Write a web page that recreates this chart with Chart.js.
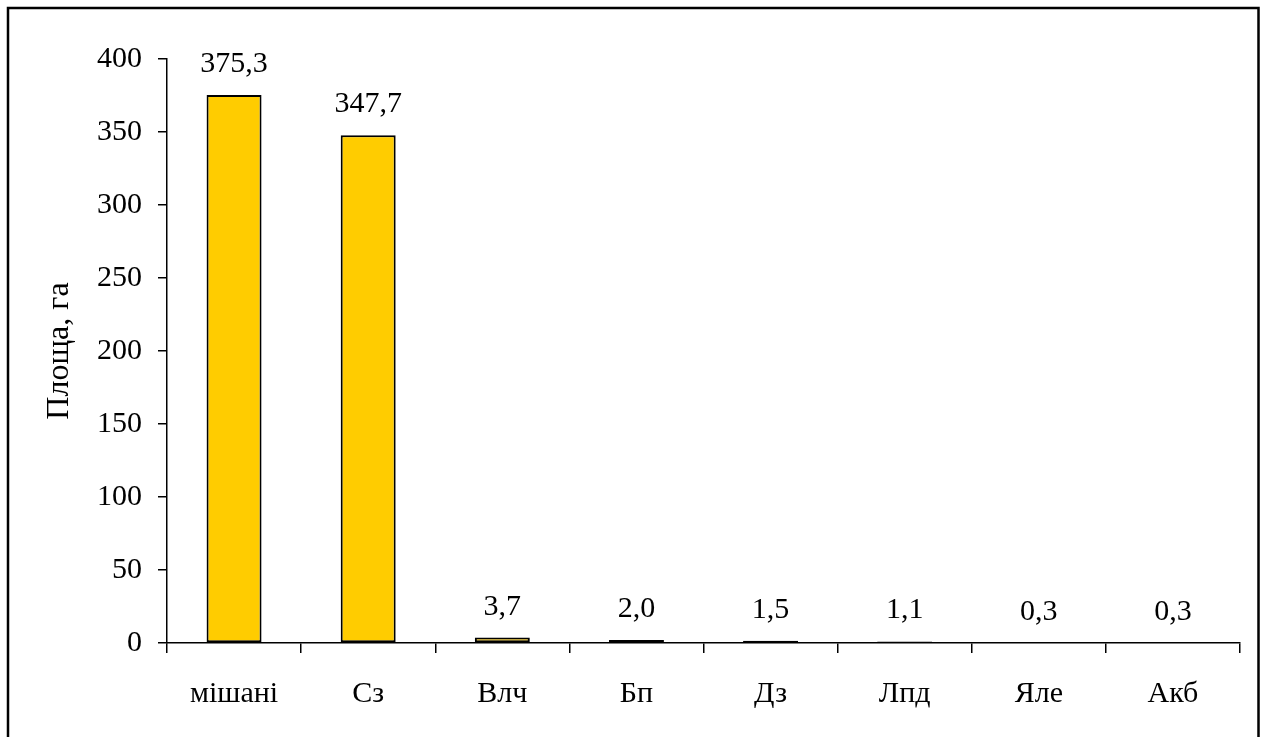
<!DOCTYPE html>
<html>
<head>
<meta charset="utf-8">
<script src="https://cdn.jsdelivr.net/npm/chart.js@4.4.1/dist/chart.umd.min.js"></script>
<style>
html,body{margin:0;padding:0;background:#fff;}
#wrap{position:absolute;left:0;top:0;width:1265px;height:737px;}
</style>
</head>
<body>
<div id="wrap"><canvas id="c" width="1265" height="737"></canvas></div>
<script>
const categories = ["мішані", "Сз", "Влч", "Бп", "Дз", "Лпд", "Яле", "Акб"];
const areaValues = [375.3, 347.7, 3.7, 2.0, 1.5, 1.1, 0.3, 0.3];
const yTicks = [0, 50, 100, 150, 200, 250, 300, 350, 400];
const yTitle = "Площа, га";

const FONT = "'Liberation Serif', 'Times New Roman', serif";

const frameAndLabels = {
  id: 'frameAndLabels',
  afterDatasetsDraw(chart) {
    const ctx = chart.ctx;
    const meta = chart.getDatasetMeta(0);
    ctx.save();
    ctx.fillStyle = '#000';
    ctx.font = '30px ' + FONT;
    ctx.textAlign = 'center';
    ctx.textBaseline = 'alphabetic';
    meta.data.forEach((bar, i) => {
      const v = chart.data.datasets[0].data[i];
      ctx.fillText(v.toFixed(1).replace('.', ','), bar.x, bar.y - 23);
    });
    ctx.restore();
  },
  afterDraw(chart) {
    const ctx = chart.ctx;
    ctx.save();
    ctx.strokeStyle = '#000';
    ctx.lineWidth = 2.5;
    ctx.beginPath();
    ctx.moveTo(8, 737);
    ctx.lineTo(8, 8);
    ctx.lineTo(1258.5, 8);
    ctx.lineTo(1258.5, 737);
    ctx.stroke();
    ctx.restore();
  }
};

new Chart(document.getElementById('c'), {
  type: 'bar',
  data: {
    labels: categories,
    datasets: [{
      data: areaValues,
      backgroundColor: '#FFCC00',
      borderColor: '#000',
      borderWidth: 2,
      borderSkipped: false,
      barPercentage: 0.41,
      categoryPercentage: 1.0
    }]
  },
  options: {
    responsive: false,
    animation: false,
    devicePixelRatio: 1,
    layout: { padding: { left: 0, top: 59, right: 25, bottom: 0 } },
    plugins: { legend: { display: false }, tooltip: { enabled: false } },
    scales: {
      x: {
        offset: true,
        grid: { display: true, drawOnChartArea: false, drawTicks: true, tickLength: 10, color: '#000', lineWidth: 1.5, offset: true },
        border: { display: true, color: '#000', width: 1.5 },
        ticks: { color: '#000', font: { family: FONT, size: 30 }, padding: 23, maxRotation: 0, autoSkip: false },
        afterFit(scale) { scale.height = 94; }
      },
      y: {
        min: 0, max: 400,
        afterBuildTicks(scale) { scale.ticks = yTicks.map(v => ({ value: v })); },
        grid: { display: true, drawOnChartArea: false, drawTicks: true, tickLength: 9, color: '#000', lineWidth: 1.5 },
        border: { display: true, color: '#000', width: 1.5 },
        ticks: { color: '#000', font: { family: FONT, size: 30 }, padding: 16 },
        title: { display: true, text: yTitle, color: '#000', font: { family: FONT, size: 32 }, padding: { top: 40, bottom: 0 } },
        afterFit(scale) { scale.width = 167; }
      }
    }
  },
  plugins: [frameAndLabels]
});
</script>
</body>
</html>
